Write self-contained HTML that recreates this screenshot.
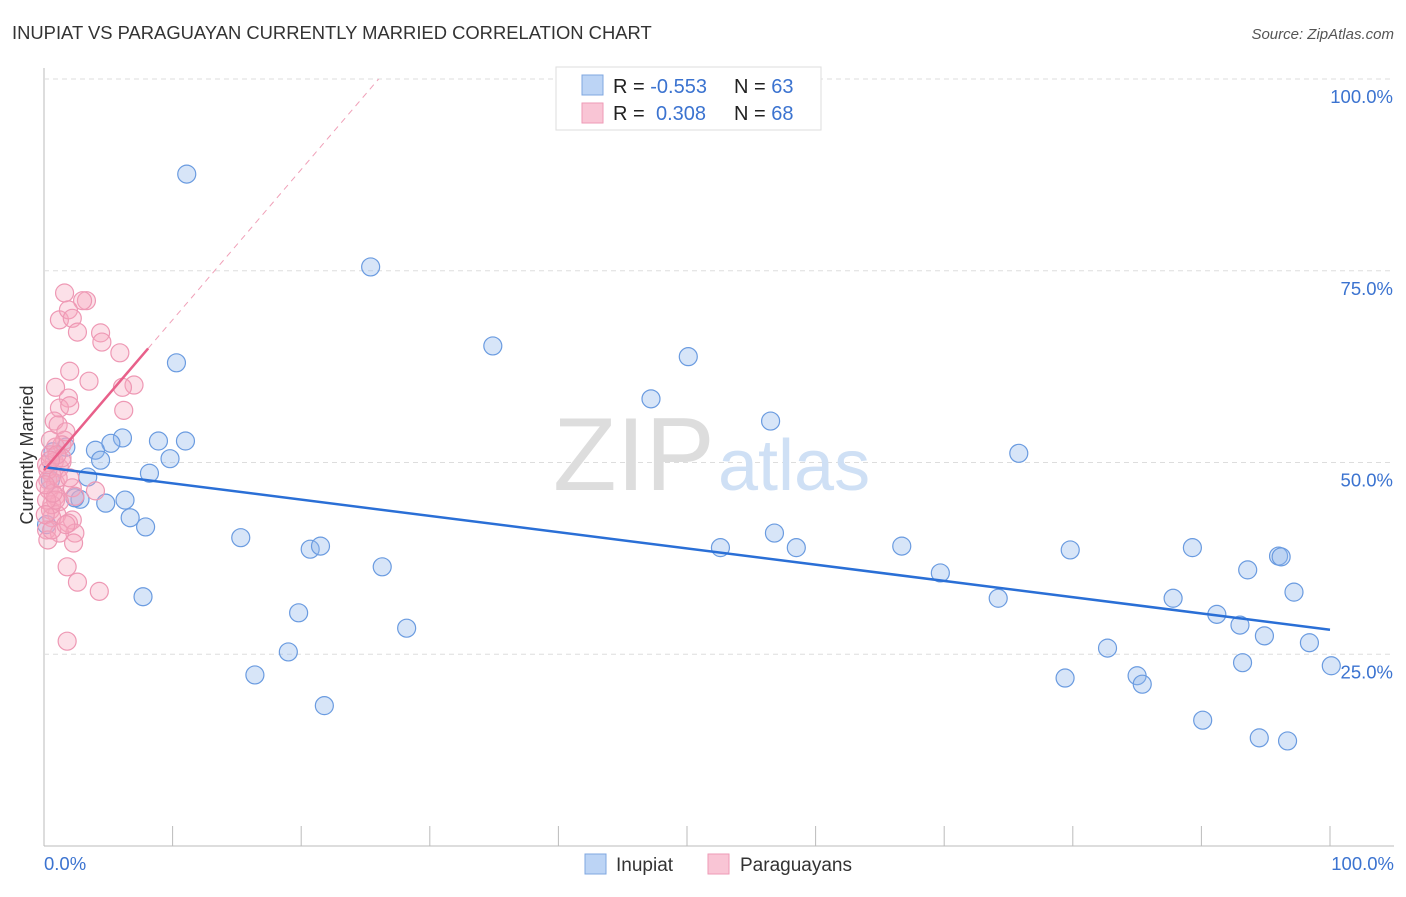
<!DOCTYPE html>
<html><head><meta charset="utf-8">
<style>
body{margin:0;background:#fff;font-family:"Liberation Sans",sans-serif;}
svg text{font-family:"Liberation Sans",sans-serif;}
</style></head>
<body>
<svg id="chart" width="1406" height="892">
<text x="12" y="39" font-size="18.4" fill="#333">INUPIAT VS PARAGUAYAN CURRENTLY MARRIED CORRELATION CHART</text>
<text x="1394" y="39" font-size="15" fill="#555" font-style="italic" text-anchor="end">Source: ZipAtlas.com</text>
<g id="grid"></g>
<g>
<text x="553" y="490" font-size="104" fill="#ddd" font-family="Liberation Serif,serif">ZIP</text>
<text x="718" y="490" font-size="72" fill="#cfe0f5">atlas</text>
</g>
<g id="marks"></g>
<text transform="translate(33,455) rotate(-90)" font-size="18" fill="#333" text-anchor="middle">Currently Married</text>
<text x="44" y="870" font-size="18.5" fill="#3b73d0">0.0%</text>
<text x="1394" y="870" font-size="18.5" fill="#3b73d0" text-anchor="end">100.0%</text>
<g>
<rect x="556" y="67" width="265" height="63" fill="#fff" stroke="#ddd"/>
<rect x="582" y="75" width="21" height="20" fill="#bcd4f5" stroke="#7fa7e0"/>
<rect x="582" y="103" width="21" height="20" fill="#f9c5d5" stroke="#ee9ab6"/>
<text x="613" y="93" font-size="20" fill="#222">R = <tspan fill="#3b73d0">-0.553</tspan></text>
<text x="734" y="93" font-size="20" fill="#222">N = <tspan fill="#3b73d0">63</tspan></text>
<text x="613" y="120" font-size="20" fill="#222">R = <tspan fill="#3b73d0" x="656">0.308</tspan></text>
<text x="734" y="120" font-size="20" fill="#222">N = <tspan fill="#3b73d0">68</tspan></text>
</g>
<g>
<rect x="585" y="854" width="21" height="20" fill="#bcd4f5" stroke="#7fa7e0"/>
<text x="616" y="871" font-size="19" fill="#333">Inupiat</text>
<rect x="708" y="854" width="21" height="20" fill="#f9c5d5" stroke="#ee9ab6"/>
<text x="740" y="871" font-size="19" fill="#333">Paraguayans</text>
</g>
</svg>
<script>
const yTicks=[25,50,75,100];
const yTickLabels=["25.0%","50.0%","75.0%","100.0%"];
const xTicks=[10,20,30,40,50,60,70,80,90,100];
const inupiatX=[11.1,25.4,34.9,50.1,10.3,47.2,56.5,75.8,6.1,5.2,4.0,8.9,11.0,9.8,4.4,8.2,3.4,1.7,0.7,2.8,6.3,4.8,6.7,7.9,15.3,20.7,21.5,26.3,7.7,19.8,28.2,19.0,16.4,21.8,52.6,56.8,58.5,66.7,69.7,74.2,79.8,89.3,82.7,79.4,85.0,85.4,87.8,91.2,93.0,96.0,96.2,93.6,97.2,94.9,93.2,98.4,100.1,90.1,94.5,96.7,2.4,0.5,0.2];
const inupiatY=[87.6,75.5,65.2,63.8,63.0,58.3,55.4,51.2,53.2,52.5,51.6,52.8,52.8,50.5,50.3,48.6,48.1,52.0,51.4,45.2,45.1,44.7,42.8,41.6,40.2,38.7,39.1,36.4,32.5,30.4,28.4,25.3,22.3,18.3,38.9,40.8,38.9,39.1,35.6,32.3,38.6,38.9,25.8,21.9,22.2,21.1,32.3,30.2,28.8,37.8,37.7,36.0,33.1,27.4,23.9,26.5,23.5,16.4,14.1,13.7,45.4,47.7,41.9];
const paraX=[1.6,3.3,3.0,1.2,1.9,2.2,2.6,4.4,4.5,5.9,3.5,2.0,0.9,7.0,6.1,6.2,1.9,1.2,2.0,0.8,1.1,1.6,1.7,0.9,1.4,0.5,0.8,1.2,0.6,0.3,0.9,1.4,0.4,2.2,4.0,2.4,0.9,1.2,0.5,1.0,2.2,1.9,0.6,0.2,2.4,1.2,2.3,1.8,2.6,4.3,1.8,0.3,0.6,0.9,0.2,0.5,0.2,0.7,1.1,0.1,0.3,1.4,1.0,2.0,0.1,0.6,1.7,0.5];
const paraY=[72.1,71.1,71.1,68.6,69.9,68.8,67.0,66.9,65.7,64.3,60.6,61.9,59.8,60.1,59.8,56.8,58.4,57.1,57.4,55.4,54.9,52.9,54.0,52.0,52.3,51.0,50.1,49.3,48.4,47.7,47.3,50.1,46.4,46.7,46.3,45.6,45.6,44.9,43.8,43.2,42.5,42.1,42.8,41.2,40.8,40.8,39.5,36.4,34.4,33.2,26.7,49.0,44.5,45.1,45.1,52.9,49.7,46.0,48.0,47.1,39.9,50.6,51.0,48.0,43.2,41.2,41.9,50.3];
const inupiatTrend=[49.4,28.2];
const paraTrend=[49.0,1.96];
const NS="http://www.w3.org/2000/svg";
const sx=v=>44+v*12.86;
const sy=v=>846-v*7.67;
function mk(tag,attrs,parent){const e=document.createElementNS(NS,tag);for(const k in attrs)e.setAttribute(k,attrs[k]);parent.appendChild(e);return e;}
const grid=document.getElementById('grid');
const marks=document.getElementById('marks');
let ax=mk('line',{x1:44,y1:68,x2:44,y2:846,stroke:'#bbb'},grid);


let bx=mk('line',{x1:44,y1:846,x2:1394,y2:846,stroke:'#bbb'},grid);


yTicks.forEach((t,i)=>{
 const g=mk('line',{x1:44,y1:sy(t),x2:1394,y2:sy(t),stroke:'#ddd','stroke-dasharray':'5,4'},grid);
 
 
 const tx=mk('text',{x:1393,y:sy(t)+24,'font-size':18.5,fill:'#3b73d0','text-anchor':'end'},grid);
 tx.textContent=yTickLabels[i];
 
 
});
xTicks.forEach(t=>{
 const l=mk('line',{x1:sx(t),y1:826,x2:sx(t),y2:846,stroke:'#bbb'},grid);
 
 
});
inupiatX.forEach((x,i)=>{
 const c=mk('circle',{cx:sx(x),cy:sy(inupiatY[i]),r:9,fill:'rgba(140,180,235,0.35)',stroke:'#6a9be0','stroke-width':1.2},marks);
 
 
});
paraX.forEach((x,i)=>{
 const c=mk('circle',{cx:sx(x),cy:sy(paraY[i]),r:9,fill:'rgba(245,165,190,0.35)',stroke:'#ee98b4','stroke-width':1.2},marks);
 
 
});
const bl=mk('line',{x1:sx(0),y1:sy(inupiatTrend[0]),x2:sx(100),y2:sy(inupiatTrend[1]),stroke:'#2a6fd6','stroke-width':2.5},marks);


const xe=Math.max(...paraX)+1.1;
const pl=mk('line',{x1:sx(0),y1:sy(paraTrend[0]),x2:sx(xe),y2:sy(paraTrend[0]+paraTrend[1]*xe),stroke:'#e8608a','stroke-width':2.5},marks);


const xd=(100-paraTrend[0])/paraTrend[1];
const pd=mk('line',{x1:sx(xe),y1:sy(paraTrend[0]+paraTrend[1]*xe),x2:sx(xd),y2:sy(100),stroke:'#f0a0b8','stroke-width':1,'stroke-dasharray':'6,5'},marks);


</script>
</body></html>
